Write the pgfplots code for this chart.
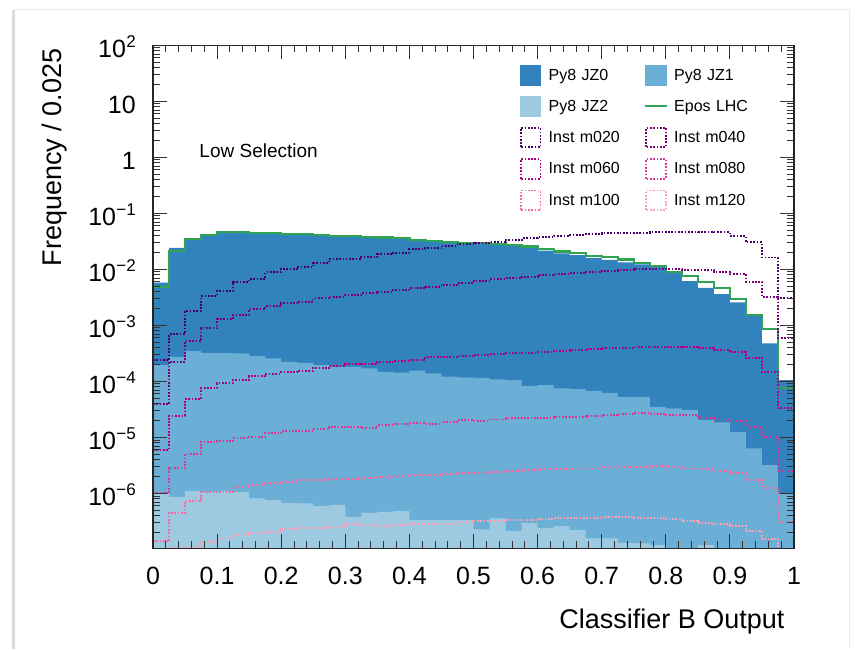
\documentclass[border=0pt]{standalone}
\usepackage{fontspec}
\setmainfont{Liberation Sans}
\usepackage{pgfplots}
\usepackage{pgfplotstable}
\pgfplotsset{compat=1.18}
\definecolor{jzzero}{HTML}{3182BD}
\definecolor{jzone}{HTML}{6BAED6}
\definecolor{jztwo}{HTML}{9ECAE1}
\definecolor{epos}{HTML}{31A354}
\definecolor{mA}{HTML}{49006A}
\definecolor{mB}{HTML}{7A0177}
\definecolor{mC}{HTML}{AE017E}
\definecolor{mD}{HTML}{DD3497}
\definecolor{mE}{HTML}{F768A1}
\definecolor{mF}{HTML}{FA9FB5}
\newcommand{\esup}[1]{\kern0.3pt\raisebox{10.5pt}{\fontsize{17}{20}\selectfont #1}}

\pgfplotstableread{
x     jz0      jz1      jz2      epos
0     5.77e-3  1.95e-4  1.0e-6   4.89e-3
0.025 2.43e-2  2.75e-4  8.69e-7  2.12e-2
0.05  3.58e-2  3.48e-4  1.11e-6  3.48e-2
0.075 4.22e-2  3.24e-4  1.07e-6  4.09e-2
0.1   4.63e-2  3.20e-4  1.10e-6  4.63e-2
0.125 4.63e-2  3.16e-4  1.05e-6  4.63e-2
0.15  4.51e-2  2.83e-4  8.15e-7  4.51e-2
0.175 4.40e-2  2.58e-4  7.59e-7  4.40e-2
0.2   4.34e-2  2.24e-4  6.79e-7  4.34e-2
0.225 4.22e-2  2.15e-4  6.62e-7  4.22e-2
0.25  4.09e-2  1.95e-4  5.93e-7  4.09e-2
0.275 3.94e-2  1.82e-4  6.18e-7  3.94e-2
0.3   3.94e-2  1.82e-4  3.82e-7  3.94e-2
0.325 3.82e-2  1.71e-4  4.51e-7  3.82e-2
0.35  3.72e-2  1.48e-4  4.69e-7  3.72e-2
0.375 3.58e-2  1.43e-4  4.83e-7  3.58e-2
0.4   3.33e-2  1.55e-4  3.33e-7  3.33e-2
0.425 3.24e-2  1.39e-4  3.33e-7  3.24e-2
0.45  3.07e-2  1.21e-4  3.33e-7  3.07e-2
0.475 2.95e-2  1.18e-4  3.33e-7  2.95e-2
0.5   2.91e-2  1.16e-4  2.28e-7  2.91e-2
0.525 2.83e-2  1.09e-4  3.58e-7  2.83e-2
0.55  2.69e-2  1.05e-4  2.15e-7  2.69e-2
0.575 2.54e-2  8.34e-5  2.99e-7  2.56e-2
0.6   2.15e-2  8.59e-5  2.43e-7  2.31e-2
0.625 1.93e-2  7.50e-5  2.61e-7  2.08e-2
0.65  1.80e-2  7.28e-5  2.21e-7  1.93e-2
0.675 1.61e-2  6.79e-5  1.57e-7  1.76e-2
0.7   1.47e-2  6.25e-5  1.57e-7  1.64e-2
0.725 1.33e-2  5.31e-5  1.31e-7  1.50e-2
0.75  1.23e-2  5.31e-5  1.28e-7  1.28e-2
0.775 1.10e-2  3.52e-5  1.19e-7  1.16e-2
0.8   9.06e-3  3.30e-5  1e-9     9.06e-3
0.825 6.18e-3  3.07e-5  1e-9     7.69e-3
0.85  4.69e-3  2.04e-5  1.19e-7  6.01e-3
0.875 3.62e-3  1.85e-5  1e-9     4.58e-3
0.9   2.58e-3  1.26e-5  1e-9     2.95e-3
0.925 1.48e-3  6.37e-6  1e-9     1.53e-3
0.95  4.78e-4  3.20e-6  1e-9     8.49e-4
0.975 1.05e-4  1.0e-6   1e-9     7.50e-5
1     1.05e-4  1.0e-6   1e-9     7.50e-5
}\fills

\pgfplotstableread{
x     m020     m040     m060     m080     m100     m120
0     2.40e-4  3.94e-5  6.03e-6  1.0e-6   1.41e-7  5e-8
0.025 7.00e-4  2.24e-4  2.45e-5  2.82e-6  4.47e-7  1.05e-7
0.05  1.80e-3  5.25e-4  4.78e-5  4.97e-6  7.28e-7  1.1e-7
0.075 3.33e-3  8.83e-4  7.50e-5  8.34e-6  1.07e-6  1.37e-7
0.1   4.09e-3  1.28e-3  9.20e-5  8.69e-6  1.07e-6  1.57e-7
0.125 6.01e-3  1.53e-3  1.05e-4  9.59e-6  1.28e-6  1.80e-7
0.15  6.71e-3  1.93e-3  1.24e-4  1.03e-5  1.41e-6  1.93e-7
0.175 8.83e-3  2.21e-3  1.35e-4  1.18e-5  1.51e-6  2.06e-7
0.2   1.01e-2  2.47e-3  1.45e-4  1.29e-5  1.61e-6  2.28e-7
0.225 1.11e-2  2.64e-3  1.55e-4  1.31e-5  1.73e-6  2.37e-7
0.25  1.31e-2  3.03e-3  1.75e-4  1.39e-5  1.73e-6  2.37e-7
0.275 1.51e-2  3.24e-3  1.90e-4  1.51e-5  1.80e-6  2.54e-7
0.3   1.53e-2  3.48e-3  2.01e-4  1.55e-5  1.80e-6  2.83e-7
0.325 1.64e-2  3.72e-3  2.04e-4  1.45e-5  1.90e-6  2.72e-7
0.35  1.87e-2  3.98e-3  2.18e-4  1.66e-5  1.98e-6  2.64e-7
0.375 1.98e-2  4.27e-3  2.30e-4  1.73e-5  2.06e-6  2.72e-7
0.4   2.28e-2  4.58e-3  2.40e-4  1.78e-5  2.12e-6  2.83e-7
0.425 2.37e-2  4.89e-3  2.69e-4  1.73e-5  2.12e-6  2.83e-7
0.45  2.61e-2  5.25e-3  2.75e-4  1.90e-5  2.21e-6  2.83e-7
0.475 2.83e-2  5.62e-3  2.83e-4  2.04e-5  2.33e-6  3.11e-7
0.5   2.91e-2  6.18e-3  2.95e-4  1.98e-5  2.33e-6  3.24e-7
0.525 3.03e-2  6.62e-3  3.03e-4  2.09e-5  2.43e-6  3.24e-7
0.55  3.33e-2  6.90e-3  3.16e-4  2.18e-5  2.54e-6  3.33e-7
0.575 3.58e-2  7.38e-3  3.24e-4  2.18e-5  2.61e-6  3.33e-7
0.6   3.72e-2  7.91e-3  3.30e-4  2.24e-5  2.69e-6  3.48e-7
0.625 3.94e-2  8.15e-3  3.52e-4  2.33e-5  2.72e-6  3.58e-7
0.65  4.09e-2  8.49e-3  3.62e-4  2.33e-5  2.79e-6  3.66e-7
0.675 4.22e-2  8.83e-3  3.78e-4  2.43e-5  2.79e-6  3.66e-7
0.7   4.40e-2  9.33e-3  3.98e-4  2.50e-5  2.91e-6  3.82e-7
0.725 4.51e-2  9.70e-3  3.98e-4  2.61e-5  2.91e-6  3.82e-7
0.75  4.51e-2  1.00e-2  4.05e-4  2.69e-5  2.99e-6  3.66e-7
0.775 4.69e-2  1.00e-2  4.15e-4  2.61e-5  3.07e-6  3.62e-7
0.8   4.69e-2  1.00e-2  4.15e-4  2.50e-5  2.99e-6  3.48e-7
0.825 4.69e-2  9.70e-3  4.05e-4  2.50e-5  2.79e-6  3.20e-7
0.85  4.68e-2  9.70e-3  3.98e-4  2.24e-5  2.69e-6  3.01e-7
0.875 4.57e-2  9.06e-3  3.70e-4  2.09e-5  2.50e-6  2.83e-7
0.9   3.94e-2  8.24e-3  3.33e-4  1.98e-5  2.35e-6  2.66e-7
0.925 3.03e-2  6.05e-3  2.61e-4  1.56e-5  1.73e-6  2.12e-7
0.95  1.63e-2  3.24e-3  1.48e-4  1.03e-5  1.27e-6  1.53e-7
0.975 3.07e-3  5.86e-4  3.30e-5  2.50e-6  3.11e-7  9e-8
1     3.07e-3  5.86e-4  3.30e-5  2.50e-6  3.11e-7  9e-8
}\inst

\pgfplotsset{
  boxleg/.style={legend image code/.code={\fill[##1] (0pt,-10.5pt) rectangle (21.5pt,10.5pt); \path (27.8pt,0pt);}},
  lineleg/.style={legend image code/.code={\draw[##1] (0pt,0pt) -- (21.5pt,0pt); \path (27.8pt,0pt);}},
  dotleg/.style={legend image code/.code={\draw[##1] (1pt,-9.75pt) rectangle (20.5pt,9.75pt); \path (27.8pt,0pt);}},
  instline/.style={const plot, line width=1.9pt, dash pattern=on 1.7pt off 1.6pt, draw=#1, dotleg},
}

\begin{document}
\begin{tikzpicture}
\path[use as bounding box] (0pt,0pt) rectangle (867pt,649pt);
% canvas border (screenshot frame)
\draw[black!14, line width=3pt] (13.5pt,0pt) -- (13.5pt,639pt);
\draw[black!8, line width=1pt] (13.5pt,639pt) -- (849pt,639pt) -- (849pt,0pt);
\begin{axis}[
  scale only axis, width=641pt, height=503pt,
  at={(153pt,100.7pt)}, anchor=south west,
  xmin=0, xmax=1, ymode=log, ymin=1.047e-7, ymax=100,
  log origin y=infty,
  xtick={0,0.1,0.2,0.3,0.4,0.5,0.6,0.7,0.8,0.9,1},
  xticklabels={0,0.1,0.2,0.3,0.4,0.5,0.6,0.7,0.8,0.9,1},
  minor x tick num=4,
  ytick={1e-6,1e-5,1e-4,1e-3,1e-2,1e-1,1,10,100},
  yticklabels={10\esup{−6},10\esup{−5},10\esup{−4},10\esup{−3},10\esup{−2},10\esup{−1},1,10,10\esup{2}},
  minor ytick={2e-7,3e-7,4e-7,5e-7,6e-7,7e-7,8e-7,9e-7,
    2e-6,3e-6,4e-6,5e-6,6e-6,7e-6,8e-6,9e-6,
    2e-5,3e-5,4e-5,5e-5,6e-5,7e-5,8e-5,9e-5,
    2e-4,3e-4,4e-4,5e-4,6e-4,7e-4,8e-4,9e-4,
    2e-3,3e-3,4e-3,5e-3,6e-3,7e-3,8e-3,9e-3,
    2e-2,3e-2,4e-2,5e-2,6e-2,7e-2,8e-2,9e-2,
    0.2,0.3,0.4,0.5,0.6,0.7,0.8,0.9,
    2,3,4,5,6,7,8,9,20,30,40,50,60,70,80,90},
  tick align=inside, tick pos=both,
  major tick length=14pt, minor tick length=7pt,
  every tick/.style={black!80, line width=0.9pt},
  axis line style={black!85, line width=1.2pt},
  axis on top,
  tick label style={font=\fontsize{25}{30}\selectfont},
  xticklabel style={anchor=north, inner sep=0pt, yshift=-18.7pt},
  yticklabel style={anchor=base east, inner sep=0pt, xshift=-17pt, yshift=-12.5pt},
  xlabel={Classifier B Output},
  ylabel={Frequency / 0.025},
  every axis x label/.style={at={(axis description cs:0.9906,-0.1594)}, anchor=base east, font=\fontsize{27}{32}\selectfont},
  every axis y label/.style={at={(axis description cs:-0.1435,1)}, anchor=base east, rotate=90, font=\fontsize{27}{32}\selectfont},
  legend columns=2,
  legend cell align=left,
  legend style={at={(rel axis cs:0.5725,0.9614)}, anchor=north west, draw=none, fill=none,
    inner sep=0pt, outer sep=0pt, row sep=10pt, column sep=0pt,
    nodes={inner sep=0pt, text width=95.5pt, align=left, font=\fontsize{16}{19}\selectfont}},
]
\addplot[const plot, fill=jzzero, draw=none, boxleg] table[x=x,y=jz0]{\fills} \closedcycle;
\addlegendentry{Py8 JZ0}
\addplot[const plot, fill=jzone, draw=none, boxleg] table[x=x,y=jz1]{\fills} \closedcycle;
\addlegendentry{Py8 JZ1}
\addplot[const plot, fill=jztwo, draw=none, boxleg] table[x=x,y=jz2]{\fills} \closedcycle;
\addlegendentry{Py8 JZ2}
\addplot[const plot, draw=epos, line width=2.2pt, lineleg] table[x=x,y=epos]{\fills};
\addlegendentry{Epos LHC}
\addplot[instline=mA] table[x=x,y=m020]{\inst};
\addlegendentry{Inst m020}
\addplot[instline=mB] table[x=x,y=m040]{\inst};
\addlegendentry{Inst m040}
\addplot[instline=mC] table[x=x,y=m060]{\inst};
\addlegendentry{Inst m060}
\addplot[instline=mD] table[x=x,y=m080]{\inst};
\addlegendentry{Inst m080}
\addplot[instline=mE] table[x=x,y=m100]{\inst};
\addlegendentry{Inst m100}
\addplot[instline=mF] table[x=x,y=m120]{\inst};
\addlegendentry{Inst m120}
\node[anchor=base west, font=\fontsize{19}{23}\selectfont] at (rel axis cs:0.067,0.776) {Low Selection};
\end{axis}
\end{tikzpicture}
\end{document}
